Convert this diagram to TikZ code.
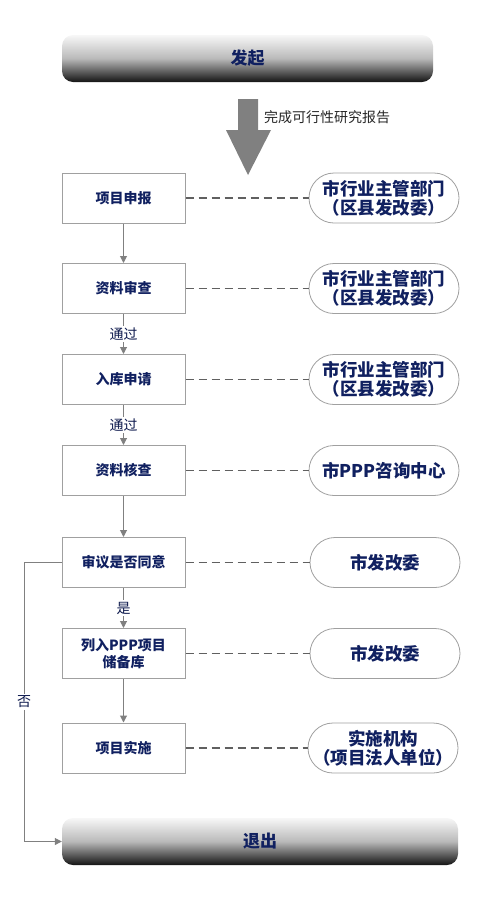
\documentclass[tikz,border=0pt]{standalone}
\usepackage{fontspec}
\setmainfont{Noto Sans CJK SC}
\usetikzlibrary{arrows.meta}
\definecolor{navy}{HTML}{102060}
\definecolor{boxline}{HTML}{A0A0A0}
\definecolor{arrowgray}{HTML}{808080}
\definecolor{dashgray}{HTML}{606060}
\tikzset{
  stepbox/.style={draw=boxline, line width=1pt, fill=white, minimum width=123pt, minimum height=50pt, inner sep=0pt, align=center, text=navy, font=\fontsize{14}{16.5}\selectfont\bfseries},
  pill/.style={draw=boxline, line width=0.8pt, fill=white, minimum width=150pt, minimum height=50pt, rounded corners=25pt, inner sep=0pt, align=center, text=navy, font=\fontsize{17.5}{19}\selectfont\bfseries},
  bar/.style={rounded corners=11pt, top color=gray!6, bottom color=black!92, middle color=gray!55, minimum height=47pt, inner sep=0pt, text=navy, font=\fontsize{17}{19}\selectfont\bfseries},
  flow/.style={draw=arrowgray, line width=1pt, -{Triangle[length=7pt,width=7pt]}},
  link/.style={draw=dashgray, line width=1.1pt, dash pattern=on 8pt off 5pt},
  lbl/.style={fill=white, inner sep=1.5pt, text=navy!80!black, font=\fontsize{14}{15}\selectfont},
}
\begin{document}
\begin{tikzpicture}[x=1pt,y=-1pt]
\useasboundingbox (0,0) rectangle (497,903);
% top bar
\node[bar, minimum width=371pt] (start) at (247.5,58.5) {发起};
% big arrow
\fill[arrowgray] (238,99) -- (258,99) -- (258,130) -- (271,130) -- (248,175) -- (226,130) -- (238,130) -- cycle;
\node[anchor=west, inner sep=0pt, font=\fontsize{14}{16}\selectfont, text=black!85] (report) at (264,117) {完成可行性研究报告};
% step boxes
\node[stepbox] (s1) at (123.5,198) {项目申报};
\node[stepbox] (s2) at (123.5,288.5) {资料审查};
\node[stepbox] (s3) at (123.5,379.5) {入库申请};
\node[stepbox] (s4) at (123.5,470.5) {资料核查};
\node[stepbox] (s5) at (123.5,562.5) {审议是否同意};
\node[stepbox] (s6) at (123.5,653.5) {列入PPP项目\\储备库};
\node[stepbox] (s7) at (123.5,748) {项目实施};
% pills
\node[pill] (p1) at (384,198) {市行业主管部门\\（区县发改委）};
\node[pill] (p2) at (384,288.5) {市行业主管部门\\（区县发改委）};
\node[pill] (p3) at (384,379.5) {市行业主管部门\\（区县发改委）};
\node[pill] (p4) at (384,470.5) {市PPP咨询中心};
\node[pill] (p5) at (385,562.5) {市发改委};
\node[pill] (p6) at (385,653.5) {市发改委};
\node[pill] (p7) at (383,748) {实施机构\\（项目法人单位）};
% exit bar
\node[bar, minimum width=396pt] (exit) at (260,841.5) {退出};
% dashed links
\foreach \i in {1,...,7} { \draw[link] (s\i.east) -- (p\i.west); }
% flow arrows
\draw[flow] (s1) -- (s2);
\draw[flow] (s2) -- node[lbl] {通过} (s3);
\draw[flow] (s3) -- node[lbl] {通过} (s4);
\draw[flow] (s4) -- (s5);
\draw[flow] (s5) -- node[lbl] {是} (s6);
\draw[flow] (s6) -- (s7);
\coordinate (c1) at (24,562.5);
\coordinate (c2) at (24,841.5);
\draw[flow] (s5.west) -- (c1) -- node[lbl, pos=0.5] {否} (c2) -- (exit.west);
\end{tikzpicture}
\end{document}
